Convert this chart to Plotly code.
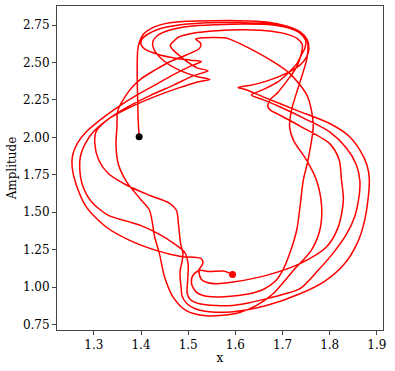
import plotly.graph_objects as go

# trajectory, in data units, start -> end
traj_x = [
    # start strand, outer top arc, first right tip
    1.396, 1.394, 1.393, 1.392, 1.392, 1.393, 1.397, 1.405, 1.422, 1.454, 1.496, 1.553, 1.609, 1.666, 1.708, 1.737,
    1.752, 1.756, 1.751, 1.737, 1.708, 1.666, 1.630, 1.606,
    # outer right arc, outer bottom hook, steep middle strand, left arc 3, tip 3
    1.623, 1.659, 1.730, 1.800, 1.840, 1.865, 1.879, 1.884, 1.881, 1.873, 1.858, 1.830, 1.790, 1.737, 1.666, 1.595,
    1.545, 1.515, 1.497, 1.487, 1.485, 1.483, 1.483, 1.487, 1.489, 1.484, 1.480, 1.475, 1.460, 1.420, 1.370, 1.330,
    1.310, 1.302, 1.305, 1.330, 1.370, 1.420, 1.480, 1.520, 1.546, 1.520, 1.480, 1.445, 1.427, 1.425,
    # second top arc, tip, right arc, hook, left arc 2, tip 2
    1.435, 1.460, 1.500, 1.560, 1.620, 1.680, 1.715, 1.738, 1.749, 1.748, 1.740, 1.730, 1.712, 1.690, 1.660, 1.634,
    1.660, 1.694, 1.750, 1.800, 1.835, 1.856, 1.864, 1.862, 1.853, 1.835, 1.808, 1.775, 1.737, 1.700, 1.666, 1.630,
    1.595, 1.560, 1.524, 1.505, 1.498, 1.499, 1.500, 1.493, 1.470, 1.440, 1.400, 1.370, 1.330, 1.295, 1.276, 1.270,
    1.272, 1.282, 1.300, 1.330, 1.370, 1.420, 1.470, 1.510, 1.542, 1.520, 1.500, 1.480, 1.466, 1.462, 1.468,
    # third top arc, inner right arc, inner hook, left arc 1, tip 1
    1.480, 1.510, 1.560, 1.620, 1.680, 1.712, 1.732, 1.742, 1.740, 1.730, 1.715, 1.690, 1.673, 1.669,
    1.675, 1.690, 1.740, 1.800, 1.820, 1.825, 1.829, 1.818, 1.793, 1.737, 1.666, 1.595, 1.560, 1.540, 1.528, 1.524,
    1.523, 1.531, 1.528, 1.482, 1.432, 1.376, 1.326, 1.284, 1.262, 1.254, 1.255, 1.265, 1.285, 1.315, 1.350, 1.390,
    1.430, 1.470, 1.505, 1.528, 1.505, 1.470, 1.435, 1.410, 1.400, 1.402, 1.415, 1.440, 1.480, 1.540, 1.610, 1.668,
    1.710, 1.738, 1.751, 1.754, 1.751,
    # steep right strand, bottom arc, inner left strand, small hook, inner top arc
    1.735, 1.719, 1.715, 1.723, 1.751, 1.772, 1.783, 1.779, 1.761, 1.723, 1.680, 1.645, 1.609, 1.567, 1.538, 1.496,
    1.468, 1.450, 1.439, 1.429, 1.418, 1.398, 1.370, 1.352, 1.347, 1.349, 1.351, 1.376, 1.400, 1.430, 1.461, 1.496,
    1.524, 1.527, 1.520, 1.516, 1.525, 1.553, 1.577, 1.588, 1.630, 1.680, 1.715, 1.737,
    # second steep right strand, last bottom hook, end
    1.752, 1.760, 1.765, 1.754, 1.744, 1.737, 1.730, 1.715, 1.700, 1.685, 1.660, 1.630, 1.595, 1.560, 1.530, 1.517,
    1.507, 1.510, 1.524, 1.545, 1.574, 1.594,
]
traj_y = [
    2.003, 2.115, 2.248, 2.382, 2.494, 2.583, 2.639, 2.688, 2.728, 2.761, 2.775, 2.779, 2.779, 2.770, 2.743, 2.705,
    2.654, 2.594, 2.538, 2.482, 2.427, 2.375, 2.346, 2.333,
    2.318, 2.270, 2.180, 2.092, 2.010, 1.910, 1.815, 1.720, 1.580, 1.430, 1.290, 1.150, 1.040, 0.955, 0.877, 0.835,
    0.835, 0.855, 0.890, 0.940, 1.000, 1.060, 1.111, 1.170, 1.223, 1.290, 1.400, 1.513, 1.560, 1.610, 1.680, 1.760,
    1.850, 1.960, 2.040, 2.120, 2.190, 2.260, 2.330, 2.370, 2.386, 2.405, 2.450, 2.520, 2.590, 2.640,
    2.680, 2.715, 2.740, 2.752, 2.757, 2.750, 2.728, 2.693, 2.648, 2.600, 2.550, 2.490, 2.430, 2.370, 2.320, 2.282,
    2.250, 2.204, 2.120, 2.036, 1.930, 1.820, 1.710, 1.600, 1.470, 1.350, 1.230, 1.110, 0.989, 0.950, 0.922, 0.895,
    0.877, 0.876, 0.888, 0.915, 0.955, 1.050, 1.150, 1.230, 1.290, 1.350, 1.410, 1.440, 1.480, 1.570, 1.680, 1.800,
    1.880, 1.960, 2.040, 2.120, 2.200, 2.280, 2.350, 2.410, 2.445, 2.462, 2.500, 2.550, 2.590, 2.615, 2.638,
    2.670, 2.695, 2.712, 2.718, 2.706, 2.686, 2.658, 2.620, 2.560, 2.470, 2.400, 2.300, 2.248, 2.204,
    2.180, 2.155, 2.070, 1.958, 1.850, 1.713, 1.579, 1.400, 1.267, 1.156, 1.078, 1.033, 1.022, 1.030, 1.050, 1.080,
    1.116, 1.156, 1.189, 1.205, 1.245, 1.312, 1.401, 1.535, 1.690, 1.800, 1.880, 1.960, 2.040, 2.120, 2.200, 2.280,
    2.350, 2.420, 2.475, 2.505, 2.515, 2.530, 2.555, 2.585, 2.620, 2.655, 2.690, 2.725, 2.750, 2.765, 2.766, 2.760,
    2.738, 2.703, 2.658, 2.600, 2.516,
    2.350, 2.181, 2.070, 1.981, 1.847, 1.713, 1.535, 1.379, 1.245, 1.111, 0.955, 0.877, 0.830, 0.810, 0.808, 0.843,
    0.933, 1.067, 1.223, 1.334, 1.513, 1.590, 1.700, 1.820, 1.950, 2.070, 2.180, 2.315, 2.390, 2.450, 2.505, 2.550,
    2.594, 2.625, 2.645, 2.656, 2.664, 2.667, 2.665, 2.656, 2.594, 2.505, 2.427, 2.349,
    2.280, 2.200, 2.070, 1.847, 1.713, 1.535, 1.379, 1.223, 1.110, 1.040, 0.985, 0.955, 0.940, 0.933, 0.945, 0.966,
    1.022, 1.078, 1.111, 1.103, 1.107, 1.084,
]

start_x, start_y = [1.396], [2.003]
end_x, end_y = [1.594], [1.084]

x_ticks = [1.3, 1.4, 1.5, 1.6, 1.7, 1.8, 1.9]
y_ticks = [0.75, 1.0, 1.25, 1.5, 1.75, 2.0, 2.25, 2.5, 2.75]

fig = go.Figure()
fig.add_trace(go.Scatter(x=traj_x, y=traj_y, mode="lines",
                         line=dict(color="red", width=1.5, shape="spline", smoothing=0.8)))
fig.add_trace(go.Scatter(x=start_x, y=start_y, mode="markers",
                         marker=dict(color="black", size=7)))
fig.add_trace(go.Scatter(x=end_x, y=end_y, mode="markers",
                         marker=dict(color="red", size=7)))

axis_style = dict(showgrid=False, zeroline=False, showline=True, mirror=True,
                  linecolor="#444", linewidth=1, ticks="outside", ticklen=4,
                  tickcolor="#444", tickfont=dict(size=12, color="black"),
                  automargin=False)

fig.update_layout(
    width=395, height=371,
    margin=dict(l=57, r=12, t=6, b=41),
    paper_bgcolor="white", plot_bgcolor="white",
    showlegend=False,
    font=dict(family="DejaVu Serif", color="black"),
    xaxis=dict(range=[1.2219, 1.913], tickvals=x_ticks, tickformat=".1f",
               title=dict(text="x", font=dict(size=12), standoff=2), **axis_style),
    yaxis=dict(range=[0.713, 2.877], tickvals=y_ticks, tickformat=".2f",
               title=dict(text="Amplitude", font=dict(size=12), standoff=3), **axis_style),
)

# the page body has a default 8px margin; drop it so the figure sits at the corner
fig.write_html("out.html", config={"displayModeBar": False},
               post_script="document.body.style.margin='0';")
